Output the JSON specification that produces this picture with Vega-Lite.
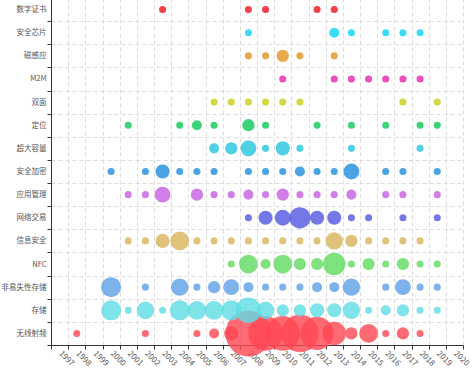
{
  "$schema": "https://vega.github.io/schema/vega-lite/v6.json",
  "width": 412,
  "height": 347,
  "autosize": {"type": "none"},
  "padding": {"left": 51, "top": -2, "right": 12, "bottom": 24},
  "background": "white",
  "config": {"view": {"stroke": null}, "font": "Noto Sans CJK SC"},
  "datasets": {
    "d": [
      {"tech": "无线射频", "year": "1998", "count": 1},
      {"tech": "无线射频", "year": "2002", "count": 1},
      {"tech": "无线射频", "year": "2005", "count": 1},
      {"tech": "无线射频", "year": "2006", "count": 2},
      {"tech": "无线射频", "year": "2007", "count": 4},
      {"tech": "无线射频", "year": "2008", "count": 42},
      {"tech": "无线射频", "year": "2009", "count": 24},
      {"tech": "无线射频", "year": "2010", "count": 24},
      {"tech": "无线射频", "year": "2011", "count": 28},
      {"tech": "无线射频", "year": "2012", "count": 22},
      {"tech": "无线射频", "year": "2013", "count": 11},
      {"tech": "无线射频", "year": "2014", "count": 3},
      {"tech": "无线射频", "year": "2015", "count": 7},
      {"tech": "无线射频", "year": "2016", "count": 1},
      {"tech": "无线射频", "year": "2017", "count": 3},
      {"tech": "无线射频", "year": "2018", "count": 1},
      {"tech": "存储", "year": "2000", "count": 8},
      {"tech": "存储", "year": "2001", "count": 1},
      {"tech": "存储", "year": "2002", "count": 6},
      {"tech": "存储", "year": "2003", "count": 1},
      {"tech": "存储", "year": "2004", "count": 8},
      {"tech": "存储", "year": "2005", "count": 7},
      {"tech": "存储", "year": "2006", "count": 7},
      {"tech": "存储", "year": "2007", "count": 8},
      {"tech": "存储", "year": "2008", "count": 13},
      {"tech": "存储", "year": "2009", "count": 6},
      {"tech": "存储", "year": "2010", "count": 3},
      {"tech": "存储", "year": "2011", "count": 3},
      {"tech": "存储", "year": "2012", "count": 4},
      {"tech": "存储", "year": "2013", "count": 4},
      {"tech": "存储", "year": "2014", "count": 6},
      {"tech": "存储", "year": "2015", "count": 1},
      {"tech": "存储", "year": "2016", "count": 2},
      {"tech": "存储", "year": "2017", "count": 3},
      {"tech": "存储", "year": "2018", "count": 1},
      {"tech": "存储", "year": "2019", "count": 1},
      {"tech": "非易失性存储", "year": "2000", "count": 8},
      {"tech": "非易失性存储", "year": "2002", "count": 1},
      {"tech": "非易失性存储", "year": "2004", "count": 6},
      {"tech": "非易失性存储", "year": "2005", "count": 1},
      {"tech": "非易失性存储", "year": "2006", "count": 3},
      {"tech": "非易失性存储", "year": "2007", "count": 5},
      {"tech": "非易失性存储", "year": "2008", "count": 2},
      {"tech": "非易失性存储", "year": "2009", "count": 1},
      {"tech": "非易失性存储", "year": "2010", "count": 1},
      {"tech": "非易失性存储", "year": "2011", "count": 1},
      {"tech": "非易失性存储", "year": "2012", "count": 2},
      {"tech": "非易失性存储", "year": "2013", "count": 2},
      {"tech": "非易失性存储", "year": "2014", "count": 6},
      {"tech": "非易失性存储", "year": "2016", "count": 1},
      {"tech": "非易失性存储", "year": "2017", "count": 5},
      {"tech": "非易失性存储", "year": "2018", "count": 1},
      {"tech": "非易失性存储", "year": "2019", "count": 1},
      {"tech": "NFC", "year": "2007", "count": 1},
      {"tech": "NFC", "year": "2008", "count": 7},
      {"tech": "NFC", "year": "2009", "count": 2},
      {"tech": "NFC", "year": "2010", "count": 7},
      {"tech": "NFC", "year": "2011", "count": 3},
      {"tech": "NFC", "year": "2012", "count": 3},
      {"tech": "NFC", "year": "2013", "count": 10},
      {"tech": "NFC", "year": "2014", "count": 1},
      {"tech": "NFC", "year": "2015", "count": 3},
      {"tech": "NFC", "year": "2016", "count": 1},
      {"tech": "NFC", "year": "2017", "count": 3},
      {"tech": "NFC", "year": "2018", "count": 1},
      {"tech": "NFC", "year": "2019", "count": 1},
      {"tech": "信息安全", "year": "2001", "count": 1},
      {"tech": "信息安全", "year": "2002", "count": 1},
      {"tech": "信息安全", "year": "2003", "count": 4},
      {"tech": "信息安全", "year": "2004", "count": 7},
      {"tech": "信息安全", "year": "2005", "count": 1},
      {"tech": "信息安全", "year": "2006", "count": 1},
      {"tech": "信息安全", "year": "2007", "count": 1},
      {"tech": "信息安全", "year": "2008", "count": 1},
      {"tech": "信息安全", "year": "2009", "count": 1},
      {"tech": "信息安全", "year": "2010", "count": 1},
      {"tech": "信息安全", "year": "2011", "count": 1},
      {"tech": "信息安全", "year": "2012", "count": 1},
      {"tech": "信息安全", "year": "2013", "count": 6},
      {"tech": "信息安全", "year": "2014", "count": 3},
      {"tech": "信息安全", "year": "2015", "count": 1},
      {"tech": "信息安全", "year": "2016", "count": 1},
      {"tech": "信息安全", "year": "2017", "count": 1},
      {"tech": "信息安全", "year": "2018", "count": 1},
      {"tech": "网络交易", "year": "2008", "count": 1},
      {"tech": "网络交易", "year": "2009", "count": 4},
      {"tech": "网络交易", "year": "2010", "count": 5},
      {"tech": "网络交易", "year": "2011", "count": 9},
      {"tech": "网络交易", "year": "2012", "count": 4},
      {"tech": "网络交易", "year": "2013", "count": 4},
      {"tech": "网络交易", "year": "2014", "count": 1},
      {"tech": "网络交易", "year": "2015", "count": 1},
      {"tech": "网络交易", "year": "2017", "count": 1},
      {"tech": "网络交易", "year": "2019", "count": 1},
      {"tech": "应用管理", "year": "2001", "count": 1},
      {"tech": "应用管理", "year": "2002", "count": 1},
      {"tech": "应用管理", "year": "2003", "count": 5},
      {"tech": "应用管理", "year": "2005", "count": 3},
      {"tech": "应用管理", "year": "2006", "count": 1},
      {"tech": "应用管理", "year": "2007", "count": 1},
      {"tech": "应用管理", "year": "2008", "count": 2},
      {"tech": "应用管理", "year": "2009", "count": 1},
      {"tech": "应用管理", "year": "2010", "count": 3},
      {"tech": "应用管理", "year": "2011", "count": 1},
      {"tech": "应用管理", "year": "2012", "count": 1},
      {"tech": "应用管理", "year": "2013", "count": 1},
      {"tech": "应用管理", "year": "2014", "count": 2},
      {"tech": "应用管理", "year": "2016", "count": 1},
      {"tech": "应用管理", "year": "2017", "count": 1},
      {"tech": "应用管理", "year": "2019", "count": 1},
      {"tech": "安全加密", "year": "2000", "count": 1},
      {"tech": "安全加密", "year": "2002", "count": 1},
      {"tech": "安全加密", "year": "2003", "count": 4},
      {"tech": "安全加密", "year": "2004", "count": 1},
      {"tech": "安全加密", "year": "2005", "count": 1},
      {"tech": "安全加密", "year": "2006", "count": 1},
      {"tech": "安全加密", "year": "2008", "count": 1},
      {"tech": "安全加密", "year": "2009", "count": 1},
      {"tech": "安全加密", "year": "2010", "count": 1},
      {"tech": "安全加密", "year": "2011", "count": 2},
      {"tech": "安全加密", "year": "2012", "count": 1},
      {"tech": "安全加密", "year": "2013", "count": 1},
      {"tech": "安全加密", "year": "2014", "count": 5},
      {"tech": "安全加密", "year": "2016", "count": 1},
      {"tech": "安全加密", "year": "2017", "count": 1},
      {"tech": "安全加密", "year": "2019", "count": 1},
      {"tech": "超大容量", "year": "2006", "count": 2},
      {"tech": "超大容量", "year": "2007", "count": 3},
      {"tech": "超大容量", "year": "2008", "count": 5},
      {"tech": "超大容量", "year": "2009", "count": 1},
      {"tech": "超大容量", "year": "2010", "count": 4},
      {"tech": "超大容量", "year": "2011", "count": 1},
      {"tech": "超大容量", "year": "2014", "count": 1},
      {"tech": "超大容量", "year": "2018", "count": 1},
      {"tech": "定位", "year": "2001", "count": 1},
      {"tech": "定位", "year": "2004", "count": 1},
      {"tech": "定位", "year": "2005", "count": 2},
      {"tech": "定位", "year": "2006", "count": 1},
      {"tech": "定位", "year": "2008", "count": 3},
      {"tech": "定位", "year": "2009", "count": 1},
      {"tech": "定位", "year": "2012", "count": 1},
      {"tech": "定位", "year": "2014", "count": 1},
      {"tech": "定位", "year": "2016", "count": 1},
      {"tech": "定位", "year": "2018", "count": 1},
      {"tech": "定位", "year": "2019", "count": 1},
      {"tech": "双面", "year": "2006", "count": 1},
      {"tech": "双面", "year": "2007", "count": 1},
      {"tech": "双面", "year": "2008", "count": 1},
      {"tech": "双面", "year": "2009", "count": 1},
      {"tech": "双面", "year": "2010", "count": 1},
      {"tech": "双面", "year": "2011", "count": 1},
      {"tech": "双面", "year": "2017", "count": 1},
      {"tech": "双面", "year": "2019", "count": 1},
      {"tech": "M2M", "year": "2010", "count": 1},
      {"tech": "M2M", "year": "2013", "count": 1},
      {"tech": "M2M", "year": "2014", "count": 1},
      {"tech": "M2M", "year": "2015", "count": 1},
      {"tech": "M2M", "year": "2016", "count": 1},
      {"tech": "M2M", "year": "2017", "count": 1},
      {"tech": "M2M", "year": "2018", "count": 1},
      {"tech": "磁感应", "year": "2008", "count": 1},
      {"tech": "磁感应", "year": "2009", "count": 1},
      {"tech": "磁感应", "year": "2010", "count": 3},
      {"tech": "磁感应", "year": "2011", "count": 1},
      {"tech": "磁感应", "year": "2013", "count": 1},
      {"tech": "安全芯片", "year": "2008", "count": 1},
      {"tech": "安全芯片", "year": "2013", "count": 2},
      {"tech": "安全芯片", "year": "2014", "count": 1},
      {"tech": "安全芯片", "year": "2016", "count": 1},
      {"tech": "安全芯片", "year": "2017", "count": 1},
      {"tech": "安全芯片", "year": "2018", "count": 1},
      {"tech": "数字证书", "year": "2003", "count": 1},
      {"tech": "数字证书", "year": "2008", "count": 1},
      {"tech": "数字证书", "year": "2009", "count": 1},
      {"tech": "数字证书", "year": "2012", "count": 1},
      {"tech": "数字证书", "year": "2013", "count": 1}
    ]
  },
  "data": {"name": "d"},
  "mark": {"type": "circle", "opacity": 0.8},
  "encoding": {
    "x": {
      "field": "year",
      "type": "ordinal",
      "scale": {
        "domain": ["1997","1998","1999","2000","2001","2002","2003","2004","2005","2006","2007","2008","2009","2010","2011","2012","2013","2014","2015","2016","2017","2018","2019","2020"],
        "paddingInner": 0,
        "paddingOuter": 0
      },
      "axis": {
        "title": null,
        "tickBand": "extent",
        "labelAngle": 45,
        "labelAlign": "left",
        "labelBaseline": "middle",
        "labelFontSize": 8,
        "labelColor": "#555",
        "labelPadding": 3,
        "tickSize": 4,
        "tickColor": "#333",
        "domainColor": "#333",
        "gridColor": "#dcdcdc",
        "gridDash": [4, 3],
        "grid": true
      }
    },
    "y": {
      "field": "tech",
      "type": "nominal",
      "scale": {
        "domain": ["数字证书","安全芯片","磁感应","M2M","双面","定位","超大容量","安全加密","应用管理","网络交易","信息安全","NFC","非易失性存储","存储","无线射频"],
        "paddingInner": 0,
        "paddingOuter": 0
      },
      "axis": {
        "title": null,
        "tickBand": "extent",
        "labelFontSize": 7.5,
        "labelColor": "#555",
        "labelPadding": 1,
        "tickSize": 4,
        "tickColor": "#333",
        "domainColor": "#333",
        "gridColor": "#dcdcdc",
        "gridDash": [4, 3],
        "grid": true
      }
    },
    "size": {
      "field": "count",
      "type": "quantitative",
      "scale": {"type": "linear", "domain": [0, 20], "range": [0, 1005], "zero": true},
      "legend": null
    },
    "color": {
      "field": "tech",
      "type": "nominal",
      "scale": {
        "domain": ["数字证书","安全芯片","磁感应","M2M","双面","定位","超大容量","安全加密","应用管理","网络交易","信息安全","NFC","非易失性存储","存储","无线射频"],
        "range": ["#ec101f","#0cd3f4","#e2921f","#e523ab","#c9ce16","#0cc859","#23c4dd","#1d8cdc","#c55fe0","#5156e0","#d8b459","#5fdb5f","#5e9fe5","#5fdce5","#ff4652"]
      },
      "legend": null
    }
  }
}
